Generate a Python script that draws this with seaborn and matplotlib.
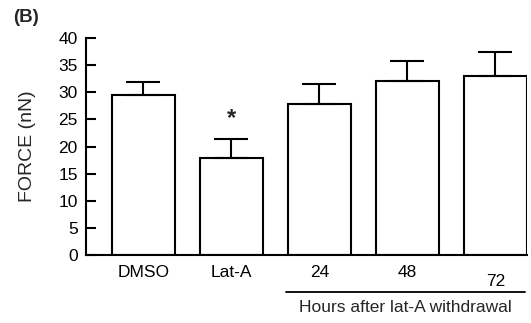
import numpy as np
import pandas as pd
import matplotlib.pyplot as plt
import matplotlib.transforms as mtransforms
import seaborn as sns

sns.set_style("ticks")
plt.rcParams['font.family'] = ['Liberation Sans', 'DejaVu Sans']

groups = ['DMSO', 'Lat-A', '24', '48', '72']
force = [29.5, 17.9, 27.8, 32.0, 33.1]
err = [2.4, 3.5, 3.7, 3.7, 4.3]

data = pd.DataFrame({'group': groups, 'force': force})

fig = plt.figure(figsize=(5.31, 3.23), dpi=100)
ax = fig.add_axes([0.162, 0.2105, 0.8305, 0.6715])

sns.barplot(data=data, x='group', y='force', order=groups, color='white',
            edgecolor='black', linewidth=1.5, width=0.72, errorbar=None, ax=ax)
for p in ax.patches:
    p.set_facecolor('white')

xs = np.arange(len(groups))
ax.errorbar(xs, force, yerr=[np.zeros(len(err)), err], fmt='none',
            ecolor='black', elinewidth=1.5, capsize=12, capthick=1.5, zorder=1)

# significance mark above Lat-A
ax.text(1, force[1] + err[1] + 1.6, '*', ha='center', va='bottom',
        fontsize=17, fontweight='bold')

ax.set_xlim(-0.65, 4.36)
ax.set_ylim(0, 40)
ax.set_yticks(range(0, 41, 5))
ax.set_xlabel('')
ax.set_ylabel('FORCE (nN)', fontsize=14)
ax.yaxis.set_label_coords(-0.113, 0.5)

sns.despine(ax=ax)
for s in ['left', 'bottom']:
    ax.spines[s].set_linewidth(1.5)
    ax.spines[s].set_color('black')

ax.tick_params(axis='y', direction='in', length=7.5, width=1.5, pad=6,
               labelsize=12.5, colors='black')
ax.tick_params(axis='x', length=0, pad=7, labelsize=12.5, colors='black')

# the 72 label sits a little lower
lbl = ax.get_xticklabels()[4]
lbl.set_transform(lbl.get_transform() +
                  mtransforms.ScaledTranslation(0, -9 / 100, fig.dpi_scale_trans))

trans = mtransforms.blended_transform_factory(ax.transData, ax.transAxes)
ax.plot([1.62, 4.335], [-0.171, -0.171], color='black', linewidth=1.3,
        transform=trans, clip_on=False)
ax.text(2.98, -0.24, 'Hours after lat-A withdrawal', transform=trans,
        ha='center', va='center', fontsize=12.5)

fig.text(0.024, 0.945, '(B)', fontsize=13.5, fontweight='bold', va='center')

fig.savefig('out.png', dpi=100)
